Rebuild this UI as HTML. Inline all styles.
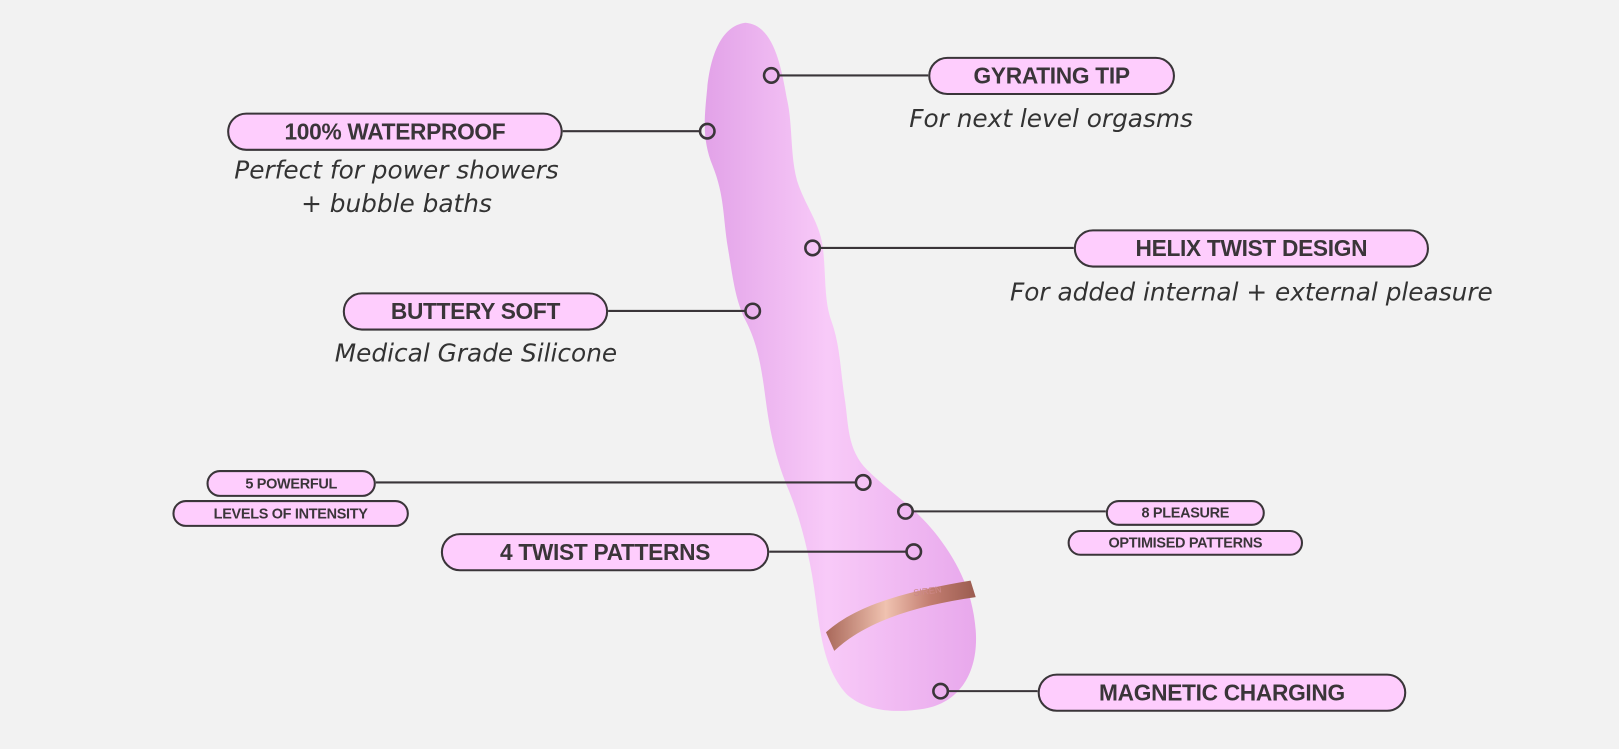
<!DOCTYPE html>
<html><head><meta charset="utf-8"><style>
html,body{margin:0;padding:0;background:#f2f2f2;overflow:hidden;}
#w{position:absolute;left:0;top:0;width:1568px;height:725px;transform:scale(1.0325,1.0331);transform-origin:0 0;}
.p{position:absolute;box-sizing:border-box;background:#fecdfd;border:2px solid #3a3539;border-radius:20px;color:#3a3539;font-family:"Liberation Sans",sans-serif;font-weight:bold;text-align:center;white-space:nowrap;letter-spacing:-0.3px;}
.s{position:absolute;color:#333;font-family:"DejaVu Sans","Liberation Sans",sans-serif;font-style:italic;font-size:24px;text-align:center;white-space:nowrap;transform:translateX(-50%);line-height:32px;}
</style></head><body><div id="w">
<svg width="1568" height="725" style="position:absolute;left:0;top:0">
<defs>
<linearGradient id="g" x1="0" y1="0" x2="1" y2="0"><stop offset="0" stop-color="#e2a2e8"/><stop offset=".45" stop-color="#f8caf8"/><stop offset="1" stop-color="#e8a8ec"/></linearGradient>
<linearGradient id="b" x1="0" y1="0" x2="1" y2="0"><stop offset="0" stop-color="#a9685a"/><stop offset=".4" stop-color="#f0c2b0"/><stop offset=".7" stop-color="#c27d70"/><stop offset="1" stop-color="#9b5c50"/></linearGradient>
</defs>
<path d="M722,22 C698,25 688,55 685,85 C682,115 680,135 690,160 C702,190 700,210 705,240 C710,270 712,290 722,310 C735,335 738,360 742,390 C746,420 752,445 762,470 C775,500 785,540 790,580 C795,620 800,650 820,672 C840,690 870,690 895,686 C930,680 948,650 945,610 C942,570 925,540 905,515 C885,490 860,475 840,455 C820,435 822,410 818,385 C814,360 814,335 805,310 C798,290 800,265 797,240 C794,215 780,200 772,175 C765,150 768,120 762,95 C756,60 748,24 722,22 Z" fill="url(#g)"/>
<path d="M800,612 C830,585 880,572 940,562 L945,578 C890,586 840,600 808,630 Z" fill="url(#b)"/>
<text x="885" y="577" font-size="9" fill="#c88" font-family="Liberation Sans" transform="rotate(-8 885 577)">SIREN</text>
<g stroke="#3a3539" stroke-width="2" fill="none">
<line x1="753" y1="73" x2="899" y2="73"/>
<line x1="545" y1="127" x2="679" y2="127"/>
<line x1="793" y1="240" x2="1040" y2="240"/>
<line x1="589" y1="301" x2="723" y2="301"/>
<line x1="364" y1="467" x2="830" y2="467"/>
<line x1="883" y1="495" x2="1071" y2="495"/>
<line x1="745" y1="534" x2="879" y2="534"/>
<line x1="917" y1="669" x2="1005" y2="669"/>
<g stroke-width="2.5">
<circle cx="747" cy="73" r="7"/><circle cx="685" cy="127" r="7"/><circle cx="787" cy="240" r="7"/><circle cx="729" cy="301" r="7"/><circle cx="836" cy="467" r="7"/><circle cx="877" cy="495" r="7"/><circle cx="885" cy="534" r="7"/><circle cx="911" cy="669" r="7"/>
</g></g>
</svg>
<div class="p" style="left:899px;top:55px;width:239px;height:37px;font-size:22px;line-height:33px">GYRATING TIP</div>
<div class="s" style="left:1018px;top:99px">For next level orgasms</div>
<div class="p" style="left:220px;top:109px;width:325px;height:37px;font-size:22px;line-height:33px">100% WATERPROOF</div>
<div class="s" style="left:384px;top:149px">Perfect for power showers</div>
<div class="s" style="left:384px;top:181px">+ bubble baths</div>
<div class="p" style="left:1040px;top:222px;width:344px;height:37px;font-size:22px;line-height:33px">HELIX TWIST DESIGN</div>
<div class="s" style="left:1212px;top:267px">For added internal + external pleasure</div>
<div class="p" style="left:332px;top:283px;width:257px;height:37px;font-size:22px;line-height:33px">BUTTERY SOFT</div>
<div class="s" style="left:461px;top:326px">Medical Grade Silicone</div>
<div class="p" style="left:200px;top:455px;width:164px;height:26px;font-size:14px;line-height:22px">5 POWERFUL</div>
<div class="p" style="left:167px;top:484px;width:229px;height:26px;font-size:14px;line-height:22px">LEVELS OF INTENSITY</div>
<div class="p" style="left:1071px;top:484px;width:154px;height:25px;font-size:14px;line-height:21px">8 PLEASURE</div>
<div class="p" style="left:1034px;top:513px;width:228px;height:25px;font-size:14px;line-height:21px">OPTIMISED PATTERNS</div>
<div class="p" style="left:427px;top:516px;width:318px;height:37px;font-size:22px;line-height:33px">4 TWIST PATTERNS</div>
<div class="p" style="left:1005px;top:652px;width:357px;height:37px;font-size:22px;line-height:33px">MAGNETIC CHARGING</div>
</div></body></html>
